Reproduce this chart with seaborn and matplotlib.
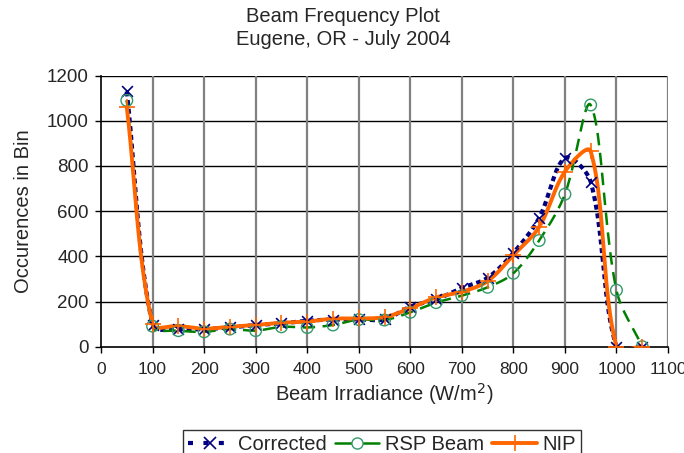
import numpy as np
import pandas as pd
import matplotlib
matplotlib.use("Agg")
import matplotlib.pyplot as plt
import seaborn as sns
from matplotlib.lines import Line2D

irradiance = [50, 100, 150, 200, 250, 300, 350, 400, 450, 500, 550,
              600, 650, 700, 750, 800, 850, 900, 950, 1000, 1050]
corrected = [1130, 96, 77, 78, 85, 96, 103, 115, 120, 121, 121,
             177, 209, 260, 305, 415, 570, 835, 730, 0, 0]
rsp_beam = [1090, 91, 71, 66, 78, 71, 88, 85, 96, 120, 118,
            152, 195, 226, 263, 325, 470, 675, 1070, 250, 0]
nip = [1060, 100, 92, 80, 88, 96, 106, 111, 124, 125, 131,
       170, 218, 243, 290, 405, 530, 775, 865, 0, 0]

x_ticks = [0, 100, 200, 300, 400, 500, 600, 700, 800, 900, 1000, 1100]
y_ticks = [0, 200, 400, 600, 800, 1000, 1200]

# pixel scale of data units, used only to weight the smoothing tangents
SX, SY = 567 / 1100, 271 / 1200


def smooth(xs, ys, n=24):
    """Smoothed line (Excel-like): cubic Bezier segments through the points,
    tangent handles weighted by neighbouring segment lengths."""
    P = np.column_stack([np.asarray(xs, float), np.asarray(ys, float)])
    m = len(P)
    scale = np.array([SX, SY])
    seg = np.linalg.norm(np.diff(P, axis=0) * scale, axis=1)
    out = []
    t = np.linspace(0, 1, n, endpoint=False)[:, None]
    for i in range(m - 1):
        p0, p3 = P[i], P[i + 1]
        if i > 0:
            T0 = P[i + 1] - P[i - 1]
            f0 = seg[i] / (seg[i] + seg[i - 1]) / 3
        else:
            T0 = P[i + 1] - P[i]
            f0 = 1 / 3
        if i + 2 < m:
            T1 = P[i + 2] - P[i]
            f1 = seg[i] / (seg[i] + seg[i + 1]) / 3
        else:
            T1 = P[i + 1] - P[i]
            f1 = 1 / 3
        p1 = p0 + T0 * f0
        p2 = p3 - T1 * f1
        b = (1 - t) ** 3 * p0 + 3 * (1 - t) ** 2 * t * p1 + 3 * (1 - t) * t ** 2 * p2 + t ** 3 * p3
        out.append(b)
    out.append(P[-1:])
    out = np.vstack(out)
    return out[:, 0], out[:, 1]


sns.set_theme(style="white")
plt.rcParams['font.family'] = ['Liberation Sans', 'DejaVu Sans']

fig = plt.figure(figsize=(6.84, 4.53), dpi=100)
ax = fig.add_axes([0.1477, 0.2347, 0.8289, 0.5984])

series = [
    ("Corrected", corrected, dict(color="#000080", ls=(0, (1.2, 0.9)), lw=3.0),
     dict(marker="x", s=60, color="#000080", linewidths=1.2)),
    ("RSP Beam", rsp_beam, dict(color="#008000", ls=(0, (5, 3)), lw=1.8),
     dict(marker="o", s=70, facecolors="none", edgecolors="#33996a", linewidths=1.0)),
    ("NIP", nip, dict(color="#FF6600", ls="-", lw=2.8),
     dict(marker="+", s=120, color="#FF6600", linewidths=1.2)),
]

for name, vals, lkw, mkw in series:
    sx, sy = smooth(irradiance, vals)
    df = pd.DataFrame({"x": sx, "y": sy})
    sns.lineplot(data=df, x="x", y="y", ax=ax, sort=False, color=lkw["color"],
                 linestyle=lkw["ls"], linewidth=lkw["lw"], zorder=3)
    pts = pd.DataFrame({"x": irradiance, "y": vals})
    ax.scatter(pts["x"], pts["y"], zorder=4, **mkw)

ax.set_xlim(0, 1100)
ax.set_ylim(0, 1200)
ax.set_xticks(x_ticks)
ax.set_yticks(y_ticks)
ax.tick_params(axis="both", length=4, width=1, color="black",
               direction="out", bottom=True, left=True)
ax.tick_params(axis="x", labelsize=12.5, pad=7)
ax.tick_params(axis="y", labelsize=13.5, pad=5)

for y in y_ticks[1:]:
    ax.axhline(y, color="black", lw=1.0, zorder=1)
for x in x_ticks[1:]:
    ax.axvline(x, color="#808080", lw=1.6, zorder=1)

for side in ["top", "right"]:
    ax.spines[side].set_visible(False)
ax.spines["left"].set_color("black")
ax.spines["bottom"].set_color("black")
ax.spines["left"].set_linewidth(1.2)
ax.spines["bottom"].set_linewidth(1.2)

ax.set_xlabel("Beam Irradiance (W/m$^2$)", fontsize=14.5, labelpad=3)
ax.set_ylabel("Occurences in Bin", fontsize=14.5, labelpad=10)
fig.text(0.5015, 0.9625, "Beam Frequency Plot", fontsize=14.5, ha="center", va="center")
fig.text(0.5015, 0.9117, "Eugene, OR - July 2004", fontsize=14.5, ha="center", va="center")

handles = [
    Line2D([], [], color="#000080", ls=(0, (1.2, 2.5)), lw=3.0, marker="x",
           markersize=8, markeredgewidth=1.2),
    Line2D([], [], color="#008000", ls="-", lw=1.8, marker="o", markersize=8,
           markerfacecolor="white", markeredgecolor="#33996a"),
    Line2D([], [], color="#FF6600", ls="-", lw=2.8, marker="+", markersize=11,
           markeredgewidth=1.2),
]
leg = fig.legend(handles, ["Corrected", "RSP Beam", "NIP"], loc="upper center",
                 bbox_to_anchor=(0.558, 0.062), ncol=3, fontsize=14.5, frameon=True,
                 fancybox=False, edgecolor="black", handlelength=2.2,
                 handletextpad=0.3, columnspacing=0.4, borderpad=0.25)
leg.get_frame().set_linewidth(1.0)
leg.set_bbox_to_anchor((0.5585, 0.062 + 0.0), transform=fig.transFigure)
leg._loc = 8  # lower center anchored, adjusted below
leg.set_bbox_to_anchor((0.5585, -0.035), transform=fig.transFigure)

fig.savefig("out.png", dpi=100)
